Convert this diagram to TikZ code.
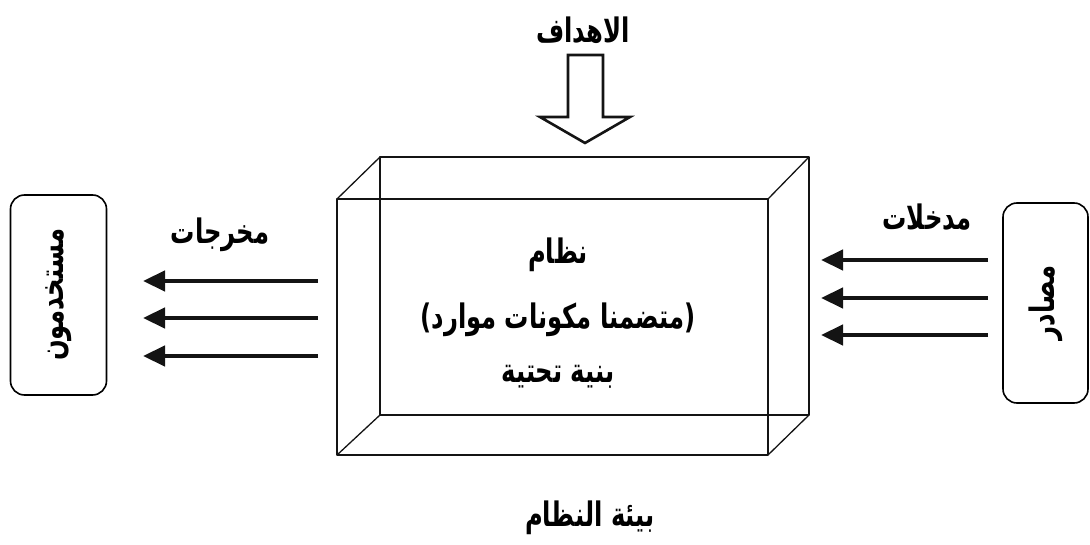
\documentclass[tikz,border=0pt]{standalone}
\usepackage{graphicx}
\usepackage{fontspec}
\newfontfamily\arabicfont[Script=Arabic]{DejaVu Sans}
\TeXXeTstate=1
\usetikzlibrary{arrows.meta}

% Arabic text, stretched to the height of the printed face
\newcommand{\artext}[1]{\scalebox{0.97}[1.35]{\beginR #1\endR}}

\begin{document}
\begin{tikzpicture}[x=1pt, y=-1pt,
    arlabel/.style={font=\arabicfont\bfseries\fontsize{25}{30}\selectfont, inner sep=0pt},
    party/.style={draw, line width=1.6pt, rounded corners=14pt, inner sep=0pt,
        minimum width=200pt, minimum height=96pt, rotate=90,
        font=\arabicfont\bfseries\fontsize{25}{30}\selectfont},
    flow/.style={line width=4.5pt, -{Triangle[length=22pt,width=20pt]}},
    edge/.style={line width=1.3pt, line join=round}]
    % Define colours
    \definecolor{inkColour}{HTML}{141414}

    % Page frame
    \useasboundingbox (0,0) rectangle (1090,545);

    % Front and back face of the system block
    \coordinate (fA) at (337,199);
    \coordinate (fB) at (768,455);
    \coordinate (bA) at (380,157);
    \coordinate (bB) at (809,415);

    % Draw the block
    \draw[edge, draw=inkColour] (fA) rectangle (fB);
    \draw[edge, draw=inkColour] (bA) rectangle (bB);
    \draw[edge, draw=inkColour] (fA) -- (bA);
    \draw[edge, draw=inkColour] (fA |- fB) -- (bA |- bB);
    \draw[edge, draw=inkColour] (fB |- fA) -- (bB |- bA);
    \draw[edge, draw=inkColour] (fB) -- (bB);

    % Text inside the block
    \node[arlabel] (system) at (558,255) {\artext{نظام}};
    \node[arlabel] (parts) at (558,320) {\artext{(متضمنا مكونات موارد)}};
    \node[arlabel] (infra) at (558,377) {\artext{بنية تحتية}};

    % Users and sources
    \node[party] (users) at (58.5,295) {\artext{مستخدمون}};
    \node[party, minimum width=200pt, minimum height=85pt] (sources) at (1045.5,303) {\artext{مصادر}};

    % Flow labels
    \node[arlabel] (outputs) at (220,235) {\artext{مخرجات}};
    \node[arlabel] (inputs) at (927,217) {\artext{مدخلات}};
    \node[arlabel] (goals) at (583,30) {\artext{الاهداف}};
    \node[arlabel] (environment) at (590,518) {\artext{بيئة النظام}};

    % Draw output arrows
    \foreach \y in {281,318,356}
        \draw[flow, draw=inkColour, fill=inkColour] (318,\y) -- (143,\y);

    % Draw input arrows
    \foreach \y in {260,298,335}
        \draw[flow, draw=inkColour, fill=inkColour] (988,\y) -- (821,\y);

    % Draw the goals arrow
    \draw[line width=2.6pt, draw=inkColour, line join=miter]
        (568,55) -- (603,55) -- (603,117) -- (630,117) -- (585,143)
        -- (540,117) -- (568,117) -- cycle;

\end{tikzpicture}
\end{document}
